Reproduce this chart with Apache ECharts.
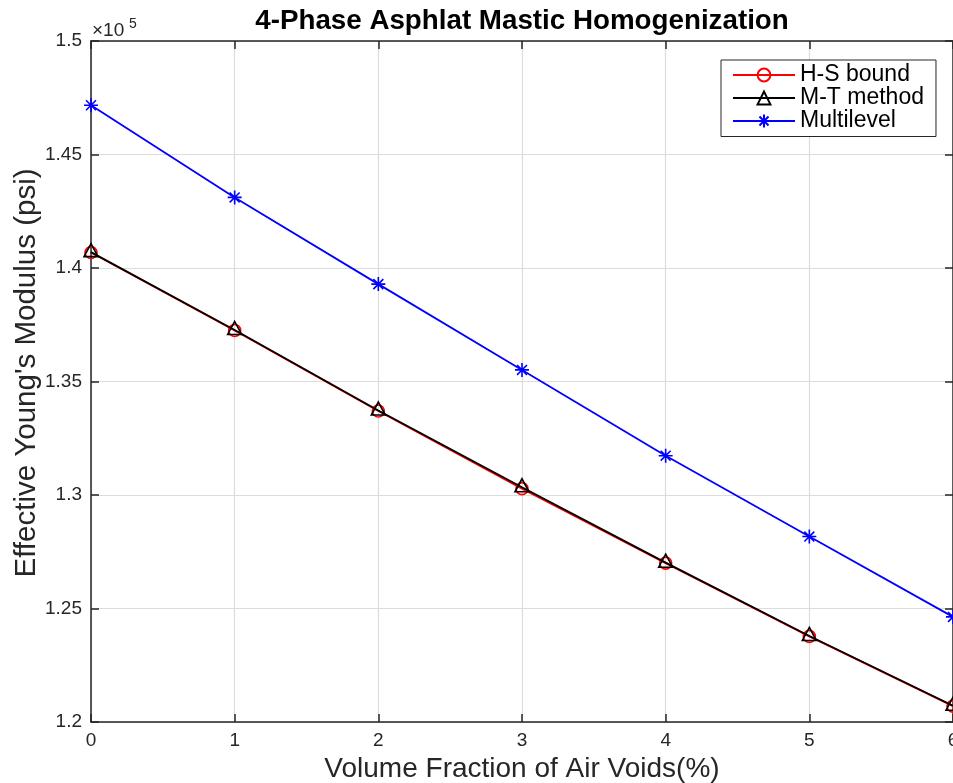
<!DOCTYPE html>
<html>
<head>
<meta charset="utf-8">
<script src="https://cdn.jsdelivr.net/npm/echarts@6/dist/echarts.min.js"></script>
<style>
  html, body { margin: 0; padding: 0; background: #ffffff; }
  #chart { width: 953px; height: 783px; }
</style>
</head>
<body>
<div id="chart"></div>
<script>
// Air-void volume fraction (%) on the x axis
const airVoids = [0, 1, 2, 3, 4, 5, 6];

// Effective Young's modulus (psi) for each homogenization scheme
const hsBound    = [140680, 137250, 133700, 130280, 127000, 123770, 120700];
const mtMethod   = [140700, 137270, 133720, 130340, 127020, 123790, 120720];
const multilevel = [147170, 143110, 139290, 135510, 131730, 128170, 124630];

// Axis ticks (y values are shown in units of 10^5 psi)
const xTicks = [0, 1, 2, 3, 4, 5, 6];
const yTickValues = [120000, 125000, 130000, 135000, 140000, 145000, 150000];
const yTickLabels = ['1.2', '1.25', '1.3', '1.35', '1.4', '1.45', '1.5'];

const seriesNames = ['H-S bound', 'M-T method', 'Multilevel'];

const FONT = '"Liberation Sans", Arial, Helvetica, sans-serif';
const AXIS_COLOR = '#262626';
const ASTERISK = 'path://M5,0L5,10M0,5L10,5M1.46,1.46L8.54,8.54M1.46,8.54L8.54,1.46';

const pairs = ys => airVoids.map((x, i) => [x, ys[i]]);

const chart = echarts.init(document.getElementById('chart'), null, { renderer: 'canvas' });

const tickStyle = { show: true, inside: true, length: 8, lineStyle: { color: AXIS_COLOR, width: 1.5 } };
const lineStyleAxis = { show: true, onZero: false, lineStyle: { color: AXIS_COLOR, width: 1.5 } };
const gridLine = { show: true, lineStyle: { color: '#dcdcdc', width: 1.2 } };

chart.setOption({
  animation: false,
  backgroundColor: '#ffffff',
  textStyle: { fontFamily: FONT },
  title: {
    text: '4-Phase Asphlat Mastic Homogenization',
    left: 522, textAlign: 'center', top: 7, padding: 0,
    textStyle: { fontFamily: FONT, fontSize: 27.75, fontWeight: 'bold', color: '#000000' }
  },
  grid: { left: 91, top: 41, width: 862, height: 681, containLabel: false, outerBoundsMode: 'none' },
  legend: {
    data: seriesNames,
    orient: 'vertical',
    left: 721, top: 60,
    padding: [3.5, 12, 4, 11],
    itemGap: 0,
    itemWidth: 62,
    itemHeight: 16,
    backgroundColor: '#ffffff',
    borderColor: AXIS_COLOR,
    borderWidth: 1,
    borderRadius: 0,
    textStyle: { fontFamily: FONT, fontSize: 23, lineHeight: 23, color: '#000000' }
  },
  xAxis: [{
    type: 'value', min: 0, max: 6, interval: 1,
    name: 'Volume Fraction of Air Voids(%)',
    nameLocation: 'middle', nameGap: 25,
    nameTextStyle: { fontFamily: FONT, fontSize: 28, color: AXIS_COLOR },
    axisLine: lineStyleAxis,
    axisTick: tickStyle,
    axisLabel: {
      margin: 9, fontFamily: FONT, fontSize: 19, color: AXIS_COLOR,
      formatter: v => xTicks.includes(v) ? String(v) : ''
    },
    splitLine: gridLine
  }, {
    type: 'value', min: 0, max: 6, interval: 1, position: 'top',
    axisLine: lineStyleAxis, axisTick: tickStyle,
    axisLabel: { show: false }, splitLine: { show: false }
  }],
  yAxis: [{
    type: 'value', min: 120000, max: 150000, interval: 5000,
    axisLine: lineStyleAxis,
    axisTick: tickStyle,
    axisLabel: {
      margin: 9, fontFamily: FONT, fontSize: 19, color: AXIS_COLOR,
      formatter: v => {
        const i = yTickValues.indexOf(v);
        return i >= 0 ? yTickLabels[i] : '';
      }
    },
    splitLine: gridLine
  }, {
    type: 'value', min: 120000, max: 150000, interval: 5000, position: 'right',
    axisLine: lineStyleAxis, axisTick: tickStyle,
    axisLabel: { show: false }, splitLine: { show: false }
  }],
  graphic: [
    {
      // y-axis title, rotated to read bottom-to-top
      type: 'text', x: 27, y: 373, rotation: Math.PI / 2, silent: true,
      style: {
        text: "Effective Young's Modulus (psi)", fontFamily: FONT, fontSize: 29.5,
        fill: AXIS_COLOR, align: 'center', verticalAlign: 'middle'
      }
    },
    {
      type: 'text', left: 92, top: 21, silent: true,
      style: { text: '\u00d710', fontFamily: FONT, fontSize: 19, fill: AXIS_COLOR }
    },
    {
      type: 'text', left: 129, top: 17, silent: true,
      style: { text: '5', fontFamily: FONT, fontSize: 14, fill: AXIS_COLOR }
    }
  ],
  series: [
    {
      name: seriesNames[0], type: 'line', data: pairs(hsBound),
      symbol: 'circle', symbolSize: 12, showAllSymbol: true,
      lineStyle: { color: '#ff0000', width: 1.8 },
      itemStyle: { color: 'transparent', borderColor: '#ff0000', borderWidth: 1.6 },
      emphasis: { disabled: true }, z: 2
    },
    {
      name: seriesNames[1], type: 'line', data: pairs(mtMethod),
      symbol: 'triangle', symbolSize: [14, 13], symbolOffset: [0, -2], showAllSymbol: true,
      lineStyle: { color: '#000000', width: 1.8 },
      itemStyle: { color: 'transparent', borderColor: '#000000', borderWidth: 1.6 },
      emphasis: { disabled: true }, z: 3
    },
    {
      name: seriesNames[2], type: 'line', data: pairs(multilevel),
      symbol: ASTERISK, symbolSize: 14, showAllSymbol: true,
      lineStyle: { color: '#0000ff', width: 1.8 },
      itemStyle: { color: 'transparent', borderColor: '#0000ff', borderWidth: 1.6 },
      emphasis: { disabled: true }, z: 4
    }
  ]
});
</script>
</body>
</html>
